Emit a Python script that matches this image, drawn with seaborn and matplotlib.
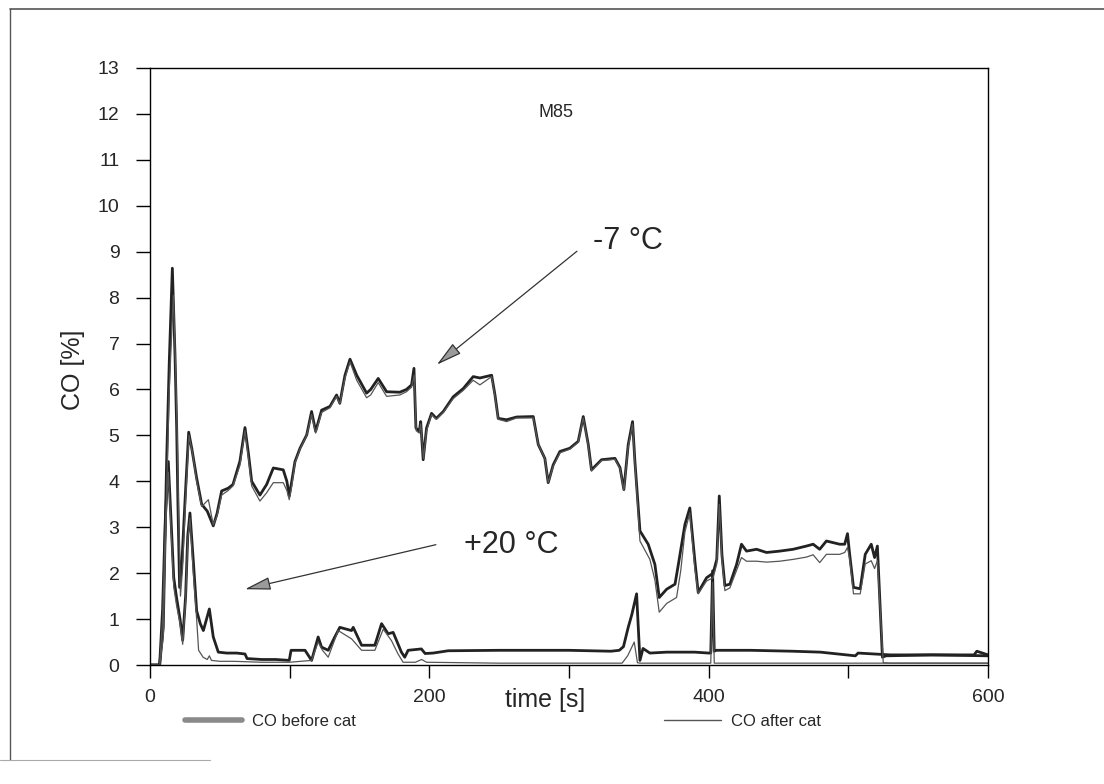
import numpy as np
import pandas as pd
import matplotlib
matplotlib.use("Agg")
import matplotlib.pyplot as plt
from matplotlib.lines import Line2D
import seaborn as sns

# ---------------- data ----------------
# -7 °C, CO before cat
t_m7_before = [0, 6.9, 9.5, 11.9, 13.8, 16.0, 17.9, 19.1, 20.0, 21.2,
               22.9, 25.3, 27.7, 30.0, 33.4, 37.0, 41.0, 45.3, 48.0, 51.3,
               56.0, 59.4, 64.4, 68.0, 70.5, 72.8, 78.7, 83.5, 88.3, 95.4,
               98.0, 99.7, 101.5, 103.8, 107.4, 112.2, 115.7, 118.6, 122.9, 128.8,
               133.6, 135.9, 139.6, 143.2, 148.0, 155.1, 158.0, 163.4, 169.4, 178.9,
               183.6, 187.3, 189.0, 190.4, 192.8, 193.8, 195.6, 198.0, 201.6, 205.0,
               210.0, 217.1, 224.3, 231.4, 236.2, 244.6, 247.0, 249.3, 255.3, 262.5,
               274.4, 278.0, 282.7, 285.1, 288.7, 293.5, 300.6, 306.6, 310.2, 313.8,
               316.1, 323.3, 332.9, 336.5, 339.3, 342.4, 345.5, 347.2, 350.8, 356.7,
               361.5, 364.6, 369.9, 375.9, 378.3, 383.0, 386.5, 390.1, 392.5, 398.5,
               403.2, 405.8, 407.6, 409.5, 411.6, 415.2, 420.0, 423.5, 427.1, 434.3,
               441.4, 450.9, 460.5, 470.0, 474.8, 479.5, 484.3, 493.8, 497.4, 499.4,
               500.8, 503.7, 508.5, 512.1, 516.4, 518.8, 520.8, 522.4, 524.4, 527.0,
               560.0, 600.0]
co_m7_before = [0, 0, 0.82, 4.43, 6.6, 8.64, 6.75, 5.16, 3.5, 1.69,
                2.27, 3.71, 5.07, 4.7, 4.07, 3.5, 3.35, 3.03, 3.3, 3.79,
                3.85, 3.93, 4.44, 5.17, 4.6, 4.0, 3.7, 3.93, 4.29, 4.25,
                4.0, 3.68, 4.0, 4.43, 4.72, 5.01, 5.52, 5.09, 5.55, 5.63,
                5.88, 5.7, 6.31, 6.66, 6.31, 5.92, 6.0, 6.24, 5.95, 5.94,
                6.0, 6.1, 6.46, 5.16, 5.09, 5.3, 4.47, 5.16, 5.48, 5.37,
                5.52, 5.84, 6.02, 6.28, 6.25, 6.31, 5.88, 5.37, 5.34, 5.4,
                5.41, 4.8, 4.5, 3.97, 4.36, 4.65, 4.72, 4.87, 5.41, 4.8,
                4.25, 4.47, 4.5, 4.3, 3.82, 4.8, 5.3, 4.43, 2.92, 2.63,
                2.19, 1.47, 1.65, 1.76, 2.19, 3.06, 3.42, 2.27, 1.58, 1.9,
                2.0, 2.3, 3.68, 2.4, 1.73, 1.76, 2.19, 2.63, 2.48, 2.52,
                2.45, 2.48, 2.52, 2.59, 2.63, 2.52, 2.7, 2.63, 2.63, 2.86,
                2.45, 1.69, 1.66, 2.41, 2.63, 2.34, 2.59, 1.5, 0.17, 0.2,
                0.22, 0.2]

# -7 °C, CO after cat
t_m7_after = [0, 6.9, 9.5, 11.9, 13.8, 16.7, 18.3, 19.5, 20.5, 21.8,
              23.3, 25.5, 27.9, 30.5, 33.4, 37.0, 41.8, 45.3, 48.0, 51.3,
              56.0, 59.4, 64.4, 68.0, 70.5, 72.8, 78.7, 83.5, 88.3, 95.4,
              98.0, 99.7, 101.5, 103.8, 107.4, 112.2, 115.7, 118.6, 122.9, 128.8,
              133.6, 135.9, 139.6, 143.2, 148.0, 155.1, 158.0, 163.4, 169.4, 178.9,
              183.6, 187.3, 189.2, 190.6, 192.8, 193.8, 195.8, 198.0, 201.6, 205.0,
              210.0, 217.1, 224.3, 231.4, 236.2, 244.6, 247.0, 249.3, 255.3, 262.5,
              274.4, 278.0, 282.7, 285.1, 288.7, 293.5, 300.6, 306.6, 310.2, 313.8,
              316.1, 323.3, 332.9, 336.5, 339.3, 342.4, 345.5, 347.2, 350.8, 357.9,
              361.5, 364.6, 369.9, 377.0, 380.0, 383.0, 386.5, 390.1, 392.5, 398.5,
              403.2, 405.8, 407.6, 409.5, 411.6, 415.2, 420.0, 423.5, 427.1, 434.3,
              441.4, 450.9, 460.5, 470.0, 474.8, 479.5, 484.3, 493.8, 497.4, 499.4,
              501.0, 503.7, 508.5, 512.1, 516.4, 518.8, 520.8, 522.8, 525.0, 530.0,
              600.0]
co_m7_after = [0, 0, 0.6, 3.8, 6.0, 8.05, 6.5, 5.0, 3.3, 1.5,
               2.1, 3.6, 5.0, 4.6, 4.0, 3.45, 3.6, 3.05, 3.25, 3.7,
               3.8, 3.9, 4.35, 5.1, 4.5, 3.9, 3.57, 3.75, 3.97, 3.97,
               3.8, 3.6, 3.9, 4.4, 4.7, 5.0, 5.45, 5.05, 5.5, 5.6,
               5.85, 5.68, 6.25, 6.6, 6.2, 5.82, 5.88, 6.15, 5.85, 5.88,
               5.95, 6.05, 6.31, 5.1, 5.05, 5.25, 4.5, 5.1, 5.45, 5.35,
               5.5, 5.8, 5.98, 6.2, 6.1, 6.28, 5.85, 5.35, 5.3, 5.38,
               5.38, 4.8, 4.5, 3.97, 4.33, 4.62, 4.7, 4.85, 5.38, 4.78,
               4.22, 4.45, 4.48, 4.28, 3.8, 4.75, 5.25, 4.4, 2.7, 2.3,
               1.85, 1.15, 1.34, 1.47, 2.05, 2.9, 3.31, 2.1, 1.55, 1.83,
               1.9, 2.2, 3.5, 2.3, 1.62, 1.68, 2.06, 2.34, 2.26, 2.26,
               2.24, 2.26, 2.3, 2.35, 2.4, 2.23, 2.41, 2.41, 2.45, 2.56,
               2.3, 1.55, 1.55, 2.2, 2.27, 2.1, 2.27, 1.2, 0.05, 0.04,
               0.04]

# +20 °C, CO before cat
t_p20_before = [0, 6.9, 9.0, 11.0, 13.1, 15.0, 17.0, 19.0, 21.5, 23.4,
                25.5, 27.0, 28.6, 31.0, 33.4, 36.0, 38.2, 42.5, 45.3, 48.9,
                55.0, 62.0, 68.0, 69.5, 80.0, 90.0, 99.7, 101.0, 103.8, 111.0,
                115.7, 120.4, 122.8, 127.6, 132.3, 135.9, 144.3, 145.5, 151.5, 161.0,
                165.8, 170.5, 174.1, 180.0, 182.4, 184.8, 194.3, 197.0, 202.7, 213.5,
                250.0, 280.0, 300.0, 330.0, 336.0, 339.0, 342.4, 345.0, 348.4, 350.8,
                353.0, 357.9, 370.0, 390.0, 400.0, 401.5, 402.8, 404.0, 405.5, 410.0,
                430.0, 460.0, 480.0, 505.0, 507.0, 530.0, 560.0, 590.0, 592.0, 600.0]
co_p20_before = [0, 0, 1.2, 3.2, 4.43, 3.2, 1.9, 1.47, 1.0, 0.54,
                 1.5, 2.8, 3.31, 2.27, 1.18, 0.9, 0.75, 1.22, 0.61, 0.28,
                 0.26, 0.26, 0.24, 0.14, 0.12, 0.12, 0.1, 0.32, 0.32, 0.32,
                 0.1, 0.61, 0.39, 0.32, 0.61, 0.82, 0.75, 0.82, 0.43, 0.43,
                 0.9, 0.68, 0.71, 0.28, 0.17, 0.32, 0.35, 0.25, 0.26, 0.31,
                 0.32, 0.32, 0.32, 0.3, 0.32, 0.4, 0.82, 1.1, 1.55, 0.1,
                 0.36, 0.26, 0.28, 0.28, 0.26, 0.26, 2.05, 0.3, 0.32, 0.32,
                 0.32, 0.3, 0.28, 0.2, 0.26, 0.22, 0.22, 0.22, 0.3, 0.22]

# +20 °C, CO after cat
t_p20_after = [0, 6.9, 9.0, 11.0, 13.1, 15.0, 17.0, 19.0, 21.5, 23.4,
               25.5, 27.0, 28.6, 31.0, 33.4, 34.8, 38.0, 41.0, 42.5, 44.0,
               50.0, 60.0, 80.0, 100.0, 115.7, 120.4, 123.5, 127.6, 134.7, 144.3,
               151.5, 161.0, 167.0, 172.9, 177.6, 181.2, 190.0, 194.5, 198.0, 250.0,
               300.0, 338.0, 342.0, 346.7, 349.0, 351.0, 360.0, 400.0, 401.5, 402.8,
               404.0, 450.0, 500.0, 600.0]
co_p20_after = [0, 0, 1.0, 3.0, 4.2, 3.0, 1.7, 1.3, 0.9, 0.45,
                1.4, 2.7, 3.2, 2.0, 1.0, 0.32, 0.17, 0.12, 0.2, 0.1,
                0.08, 0.08, 0.06, 0.06, 0.1, 0.5, 0.32, 0.17, 0.75, 0.57,
                0.32, 0.32, 0.78, 0.53, 0.24, 0.06, 0.06, 0.12, 0.06, 0.04,
                0.04, 0.04, 0.2, 0.5, 0.05, 0.04, 0.04, 0.04, 0.04, 1.8,
                0.04, 0.04, 0.04, 0.04]

categories = ["CO before cat", "CO after cat"]
x_ticks = [0, 200, 400, 600]
x_minor = [100, 300, 500]
y_ticks = list(range(0, 14))

# ---------------- build long table ----------------
series = [
    ("-7 before", categories[0], t_m7_before, co_m7_before),
    ("-7 after", categories[1], t_m7_after, co_m7_after),
    ("+20 before", categories[0], t_p20_before, co_p20_before),
    ("+20 after", categories[1], t_p20_after, co_p20_after),
]
frames = []
for name, cat, t, c in series:
    assert len(t) == len(c), name
    frames.append(pd.DataFrame({"t": t, "co": c, "run": name, "cat": cat}))
df = pd.concat(frames, ignore_index=True)

# ---------------- style ----------------
sns.set_style("ticks")
plt.rcParams["font.family"] = ["Liberation Sans", "DejaVu Sans"]

fig = plt.figure(figsize=(11.04, 7.84), dpi=100)
ax = fig.add_axes([150 / 1104, 1 - 665 / 784, 838 / 1104, 597 / 784])

sns.lineplot(data=df, x="t", y="co", units="run", estimator=None, sort=False,
             hue="cat", hue_order=categories,
             palette={categories[0]: "#222222", categories[1]: "#555555"},
             size="cat", size_order=categories,
             sizes={categories[0]: 2.0, categories[1]: 0.9},
             legend=False, ax=ax)

ax.set_xlim(0, 600)
ax.set_ylim(0, 13)
ax.set_xticks(x_ticks)
ax.set_xticks(x_minor, minor=True)
ax.set_yticks(y_ticks)
ax.tick_params(axis="both", which="both", direction="out", color="black",
               labelsize=14, width=1)
ax.tick_params(axis="y", length=10, pad=12)
ax.tick_params(axis="x", which="both", length=9, pad=8)
for s in ax.spines.values():
    s.set_visible(True)
    s.set_linewidth(1.0)
    s.set_color("black")

ax.set_xlabel("time [s]", fontsize=18)
ax.xaxis.set_label_coords((545 - 150) / 838, (665 - 688) / 597)
ax.set_ylabel("CO [%]", fontsize=18)
ax.yaxis.set_label_coords(-0.078, 0.495)

# annotations
ax.text(291, 12.03, "M85", fontsize=13, ha="center", va="center")
ax.text(342, 9.23, "-7 °C", fontsize=22, ha="center", va="center")
ax.text(259, 2.62, "+20 °C", fontsize=22, ha="center", va="center")
arrow_kw = dict(arrowstyle="-|>,head_length=1.6,head_width=0.4",
                facecolor="#9a9a9a", edgecolor="#333333", lw=0.9,
                shrinkA=0, shrinkB=0)
ax.annotate("", xy=(205.4, 6.54), xytext=(305.7, 9.01), arrowprops=arrow_kw)
ax.annotate("", xy=(68.0, 1.65), xytext=(204.7, 2.62), arrowprops=arrow_kw)

# legend below the axes
handles = [Line2D([], [], color="#8a8a8a", lw=4),
           Line2D([], [], color="#555555", lw=1.0)]
fig.legend(handles, categories, loc="center left",
           bbox_to_anchor=(185 / 1104, 1 - 721 / 784), ncol=2, frameon=False,
           fontsize=12, handlelength=3.4, handletextpad=0.6,
           columnspacing=18.5, borderpad=0, borderaxespad=0)

# scanned page frame
fig.add_artist(Line2D([0.009, 1.0], [0.988, 0.988], transform=fig.transFigure,
                      color="#555555", lw=1.2))
fig.add_artist(Line2D([0.009, 0.009], [0.03, 0.988], transform=fig.transFigure,
                      color="#555555", lw=1.0))
fig.add_artist(Line2D([0.0, 0.19], [0.031, 0.031], transform=fig.transFigure,
                      color="#aaaaaa", lw=0.8))

fig.savefig("out.png", dpi=100, facecolor="white")
